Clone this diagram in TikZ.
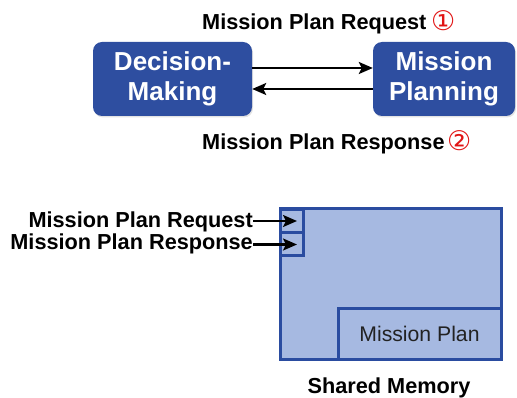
\documentclass[tikz,border=0pt]{standalone}
\usepackage{fontspec}
\setmainfont{Liberation Sans}
\newfontfamily\symfont{DejaVu Sans}
\usetikzlibrary{arrows.meta,shadows}

\definecolor{procblue}{RGB}{46,78,160}
\definecolor{memfill}{RGB}{166,185,225}
\definecolor{memedge}{RGB}{42,76,160}
\definecolor{numred}{RGB}{225,20,20}
\definecolor{plaintext}{RGB}{34,34,34}

\tikzset{
  procbox/.style={fill=procblue, rounded corners=9pt, text=white,
    font=\fontsize{26}{30}\selectfont\bfseries, align=center,
    inner sep=0pt, minimum height=74pt,
    drop shadow={opacity=0.22, shadow xshift=1pt, shadow yshift=-1.5pt}},
  msglabel/.style={inner sep=0pt, font=\fontsize{21.7}{24}\selectfont\bfseries},
  circnum/.style={font=\symfont\mdseries\fontsize{27}{30}\selectfont, text=numred, inner sep=0pt},
  arr/.style={line width=2.3pt, -{Stealth[length=14pt,width=12pt,inset=3pt]}},
  memcell/.style={draw=memedge, line width=3pt, fill=memfill, inner sep=0pt},
}

\begin{document}
\begin{tikzpicture}[x=1pt, y=-1pt]
  \useasboundingbox (0,0) rectangle (517,398);

  % processes and their messages
  \node[procbox, minimum width=159pt] (dm) at (172.5,79) {Decision-\\Making};
  \node[procbox, minimum width=142pt] (mp) at (444,79) {Mission\\Planning};

  \draw[arr] ([yshift=11pt]dm.east) -- ([yshift=11pt]mp.west);
  \draw[arr] ([yshift=-10pt]mp.west) -- ([yshift=-10pt]dm.east);

  \node[msglabel, anchor=base west] (req) at (202,30) {Mission Plan Request};
  \node[circnum, anchor=base west] (n1) at (431,31) {①};
  \node[msglabel, anchor=base west] (resp) at (202,150) {Mission Plan Response};
  \node[circnum, anchor=base west] (n2) at (447,151) {②};

  % shared memory layout
  \node[memcell, minimum width=221pt, minimum height=150pt] (mem) at (390.5,284) {};
  \node[memcell, minimum width=23pt, minimum height=23.5pt] (s1) at (291.5,221) {};
  \node[memcell, minimum width=23pt, minimum height=23pt] (s2) at (291.5,244.5) {};
  \node[memcell, minimum width=163pt, minimum height=51pt, text=plaintext,
        font=\fontsize{21.2}{24}\selectfont] (plan) at (419.5,333.5) {Mission Plan};

  \node[msglabel, anchor=base east] (lreq) at (253,228) {Mission Plan Request};
  \node[msglabel, anchor=base east] (lresp) at (253,250) {Mission Plan Response};

  \draw[arr] (s1.center -| lreq.east) -- ([xshift=5.5pt]s1.center);
  \draw[arr] (s2.center -| lresp.east) -- ([xshift=5.5pt]s2.center);

  \node[msglabel, anchor=base] (cap) at (389,393) {Shared Memory};
\end{tikzpicture}
\end{document}
